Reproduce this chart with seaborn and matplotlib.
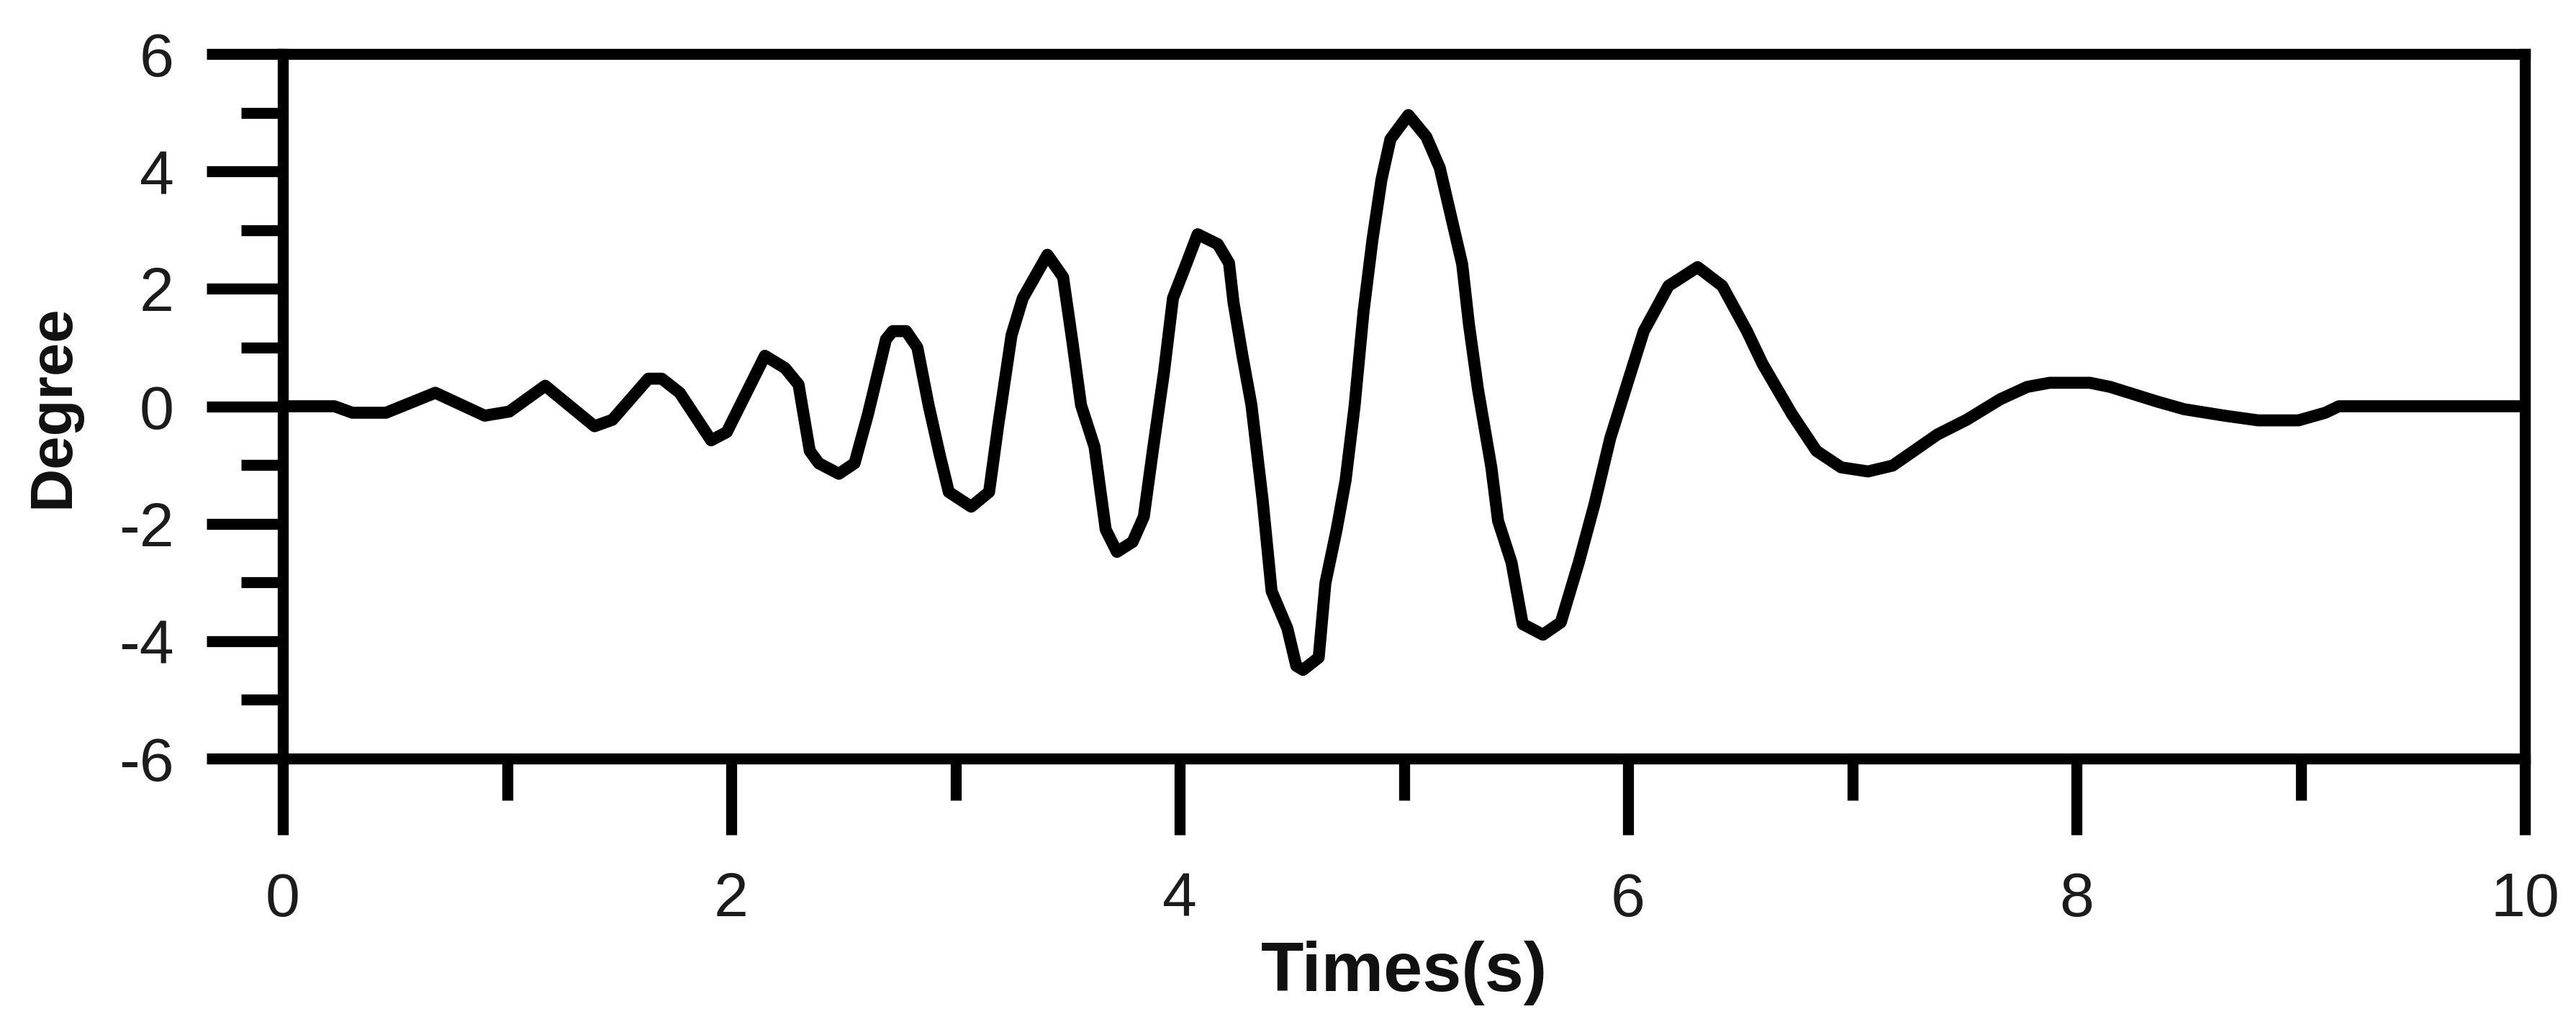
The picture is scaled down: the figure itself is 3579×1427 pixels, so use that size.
import matplotlib
matplotlib.use("Agg")
import matplotlib.pyplot as plt
import seaborn as sns
import pandas as pd
from matplotlib.ticker import MultipleLocator
from matplotlib import font_manager

# ---- data ----
time_s = [0.00, 0.23, 0.31, 0.46, 0.68, 0.90, 1.01, 1.17, 1.39, 1.47, 1.63, 1.69, 1.77, 1.91, 1.98,
          2.15, 2.24, 2.30, 2.35, 2.39, 2.48, 2.55, 2.61, 2.69, 2.72, 2.78, 2.83, 2.88, 2.93, 2.97,
          3.07, 3.15, 3.19, 3.25, 3.30, 3.41, 3.48, 3.52, 3.56, 3.62, 3.67, 3.72, 3.79, 3.84, 3.88,
          3.93, 3.97, 4.02, 4.08, 4.17, 4.22, 4.24, 4.28, 4.32, 4.37, 4.41, 4.48, 4.52, 4.55, 4.62,
          4.65, 4.70, 4.74, 4.78, 4.82, 4.86, 4.90, 4.94, 5.02, 5.10, 5.16, 5.21, 5.26, 5.29, 5.33,
          5.39, 5.42, 5.48, 5.53, 5.62, 5.70, 5.78, 5.85, 5.92, 6.00, 6.07, 6.18, 6.31, 6.42, 6.53,
          6.60, 6.73, 6.84, 6.95, 7.07, 7.18, 7.38, 7.51, 7.66, 7.78, 7.88, 8.06, 8.15, 8.36, 8.48,
          8.66, 8.81, 8.99, 9.11, 9.17, 9.48, 10.00]
degree = [0.00, 0.00, -0.11, -0.11, 0.23, -0.16, -0.09, 0.35, -0.34, -0.23, 0.47, 0.47, 0.23, -0.58, -0.44,
          0.86, 0.65, 0.37, -0.76, -0.97, -1.15, -0.97, -0.13, 1.14, 1.28, 1.28, 1.00, 0.02, -0.83, -1.46,
          -1.71, -1.46, -0.34, 1.21, 1.84, 2.58, 2.20, 1.14, 0.02, -0.69, -2.10, -2.48, -2.31, -1.88, -0.76,
          0.58, 1.84, 2.33, 2.93, 2.76, 2.44, 1.77, 0.86, 0.02, -1.60, -3.15, -3.78, -4.42, -4.49, -4.28,
          -3.01, -2.10, -1.26, 0.00, 1.61, 2.84, 3.86, 4.55, 4.96, 4.59, 4.06, 3.24, 2.42, 1.40, 0.30,
          -1.04, -1.95, -2.66, -3.71, -3.89, -3.68, -2.66, -1.67, -0.55, 0.43, 1.28, 2.05, 2.37, 2.05, 1.28,
          0.72, -0.13, -0.76, -1.04, -1.11, -1.01, -0.48, -0.23, 0.12, 0.33, 0.40, 0.40, 0.33, 0.08, -0.05,
          -0.16, -0.24, -0.24, -0.11, 0.00, 0.00, 0.00]

x_ticks = [0, 2, 4, 6, 8, 10]
y_ticks = [-6, -4, -2, 0, 2, 4, 6]
x_label = "Times(s)"
y_label = "Degree"

assert len(time_s) == len(degree)
df = pd.DataFrame({"t": time_s, "deg": degree})

sns.set_theme(style="ticks")
installed = {f.name for f in font_manager.fontManager.ttflist}
base_font = "Liberation Sans" if "Liberation Sans" in installed else "DejaVu Sans"
has_narrow = "Liberation Sans Narrow" in installed
narrow_font = "Liberation Sans Narrow" if has_narrow else base_font
plt.rcParams["font.family"] = [base_font, "DejaVu Sans"]
plt.rcParams["axes.unicode_minus"] = False

fig = plt.figure(figsize=(35.79, 14.27), dpi=100)
ax = fig.add_axes([0.10981, 0.26138, 0.87036, 0.68606])

sns.lineplot(data=df, x="t", y="deg", ax=ax, color="black", linewidth=12,
             solid_joinstyle="round", solid_capstyle="butt")

ax.set_xlim(0, 10)
ax.set_ylim(-6, 6)
ax.set_xticks(x_ticks)
ax.set_yticks(y_ticks)
ax.xaxis.set_minor_locator(MultipleLocator(1))
ax.yaxis.set_minor_locator(MultipleLocator(1))

for side in ["left", "right", "top", "bottom"]:
    ax.spines[side].set_visible(True)
    ax.spines[side].set_linewidth(11)
    ax.spines[side].set_color("black")
    ax.spines[side].set_capstyle("projecting")

ax.tick_params(axis="both", which="major", direction="out", length=76, width=11,
               color="black", labelsize=62, labelcolor="#1c1c1c")
ax.tick_params(axis="both", which="minor", direction="out", length=42, width=11, color="black")
ax.tick_params(axis="x", which="major", pad=37)
ax.tick_params(axis="y", which="major", pad=33)
ax.tick_params(top=False, right=False, which="both")

ax.set_xlabel(x_label, fontsize=70, fontweight="bold", color="#111111", family=[base_font, "DejaVu Sans"])
ax.set_ylabel(y_label, fontsize=(70 if has_narrow else 60), fontweight="bold", color="#111111",
              family=[narrow_font, "DejaVu Sans"])
ax.xaxis.set_label_coords(0.5, -0.258)
ax.yaxis.set_label_coords(-0.090, 0.5)
ax.grid(False)

fig.savefig("out.png", dpi=100, facecolor="white")
